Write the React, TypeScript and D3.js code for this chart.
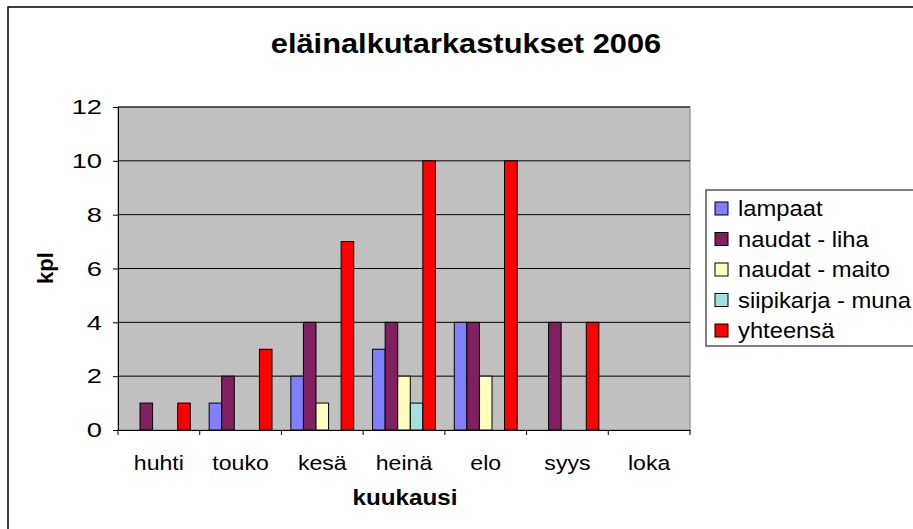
import { useEffect, useRef } from "react";
import * as d3 from "d3";

const months = ["huhti", "touko", "kesä", "heinä", "elo", "syys", "loka"];
const seriesNames = ["lampaat", "naudat - liha", "naudat - maito", "siipikarja - muna", "yhteensä"];
const colors = ["#8080FF", "#802060", "#FFFFC0", "#A0E0E0", "#FF0000"];
const lampaat = [0, 1, 2, 3, 4, 0, 0];
const naudatLiha = [1, 2, 4, 4, 4, 4, 0];
const naudatMaito = [0, 0, 1, 2, 2, 0, 0];
const siipikarja = [0, 0, 0, 1, 0, 0, 0];
const yhteensa = [1, 3, 7, 10, 10, 4, 0];
const yTicks = [0, 2, 4, 6, 8, 10, 12];

const values = [lampaat, naudatLiha, naudatMaito, siipikarja, yhteensa];
const font = "'Liberation Sans', Arial, sans-serif";

// the reference text is rendered a bit wider than Arial, stretch it
const stretch = (sel: any, k: number) => {
  sel.each(function (this: SVGTextElement) {
    const w = this.getComputedTextLength();
    d3.select(this).attr("textLength", w * k).attr("lengthAdjust", "spacingAndGlyphs");
  });
};

const App = () => {
  const ref = useRef<SVGSVGElement>(null);

  useEffect(() => {
    if (!ref.current) return;
    const svg = d3.select(ref.current);
    svg.selectAll("*").remove();

    const left = 118, right = 690, top = 107, bottom = 430;

    // chart border (runs off the page on right/bottom)
    svg.append("rect")
      .attr("x", 8).attr("y", 7).attr("width", 960).attr("height", 600)
      .attr("fill", "#fff").attr("stroke", "#000").attr("stroke-width", 1.5);

    const x0 = d3.scaleBand().domain(months).range([left, right]);
    const x1 = d3.scaleBand().domain(seriesNames).range([0, x0.bandwidth()])
      .paddingInner(0).paddingOuter(0.75);
    const y = d3.scaleLinear().domain([0, 12]).range([bottom, top]);

    svg.append("rect")
      .attr("x", left).attr("y", top).attr("width", right - left).attr("height", bottom - top)
      .attr("fill", "#C0C0C0").attr("stroke", "#808080").attr("stroke-width", 1);

    svg.append("g").selectAll("line").data(yTicks.filter(d => d > 0)).join("line")
      .attr("x1", left).attr("x2", right)
      .attr("y1", d => y(d)).attr("y2", d => y(d))
      .attr("stroke", "#000").attr("stroke-width", 1);

    const groups = svg.append("g").selectAll("g").data(months).join("g")
      .attr("transform", d => `translate(${x0(d)},0)`);
    groups.selectAll("rect")
      .data((_, i) => seriesNames.map((s, k) => ({ s, k, v: values[k][i] })).filter(d => d.v > 0))
      .join("rect")
      .attr("x", d => x1(d.s)!)
      .attr("width", x1.bandwidth())
      .attr("y", d => y(d.v))
      .attr("height", d => y(0) - y(d.v))
      .attr("fill", d => colors[d.k])
      .attr("stroke", "#000").attr("stroke-width", 1);

    // y axis
    const yAxis = svg.append("g").attr("transform", `translate(${left},0)`)
      .call(d3.axisLeft(y).tickValues(yTicks).tickSize(5).tickPadding(11).tickFormat(d3.format("d")));
    yAxis.select(".domain").attr("stroke", "#000");
    yAxis.selectAll("line").attr("stroke", "#000");
    const yt = yAxis.selectAll("text").attr("font-family", font).attr("font-size", 21).attr("fill", "#000");
    stretch(yt, 1.3);

    // x axis
    const xAxis = svg.append("g").attr("transform", `translate(0,${bottom})`)
      .call(d3.axisBottom(x0).tickSize(0).tickPadding(25));
    xAxis.select(".domain").attr("stroke", "#000");
    const xt = xAxis.selectAll("text").attr("font-family", font).attr("font-size", 21)
      .attr("fill", "#000");
    stretch(xt, 1.1);
    svg.append("g").selectAll("line").data(d3.range(months.length + 1)).join("line")
      .attr("x1", i => left + i * x0.step()).attr("x2", i => left + i * x0.step())
      .attr("y1", bottom).attr("y2", bottom + 5).attr("stroke", "#000");

    const title = svg.append("text").attr("x", 466).attr("y", 53).attr("text-anchor", "middle")
      .attr("font-family", font).attr("font-size", 28).attr("font-weight", "bold")
      .text("eläinalkutarkastukset 2006");
    stretch(title, 1.1);

    const xl = svg.append("text").attr("x", 405).attr("y", 505).attr("text-anchor", "middle")
      .attr("font-family", font).attr("font-size", 22).attr("font-weight", "bold")
      .text("kuukausi");
    stretch(xl, 1.1);

    svg.append("text").attr("transform", "translate(53,268) rotate(-90)").attr("text-anchor", "middle")
      .attr("font-family", font).attr("font-size", 22).attr("font-weight", "bold")
      .text("kpl");

    // legend
    const lg = svg.append("g");
    lg.append("rect").attr("x", 706).attr("y", 190).attr("width", 230).attr("height", 156)
      .attr("fill", "#fff").attr("stroke", "#000").attr("stroke-width", 1);
    const items = lg.selectAll("g.item").data(seriesNames).join("g")
      .attr("transform", (_, i) => `translate(715,${208 + i * 30.5})`);
    items.append("rect").attr("x", 0).attr("y", -6).attr("width", 13).attr("height", 13)
      .attr("fill", (_, i) => colors[i]).attr("stroke", "#000").attr("stroke-width", 1);
    const lt = items.append("text").attr("x", 23).attr("y", 8)
      .attr("font-family", font).attr("font-size", 22).text(d => d);
    stretch(lt, 1.08);
  }, []);

  return (
    <svg ref={ref} width={913} height={529}
      style={{ position: "absolute", left: 0, top: 0, display: "block" }} />
  );
};

export default App;
